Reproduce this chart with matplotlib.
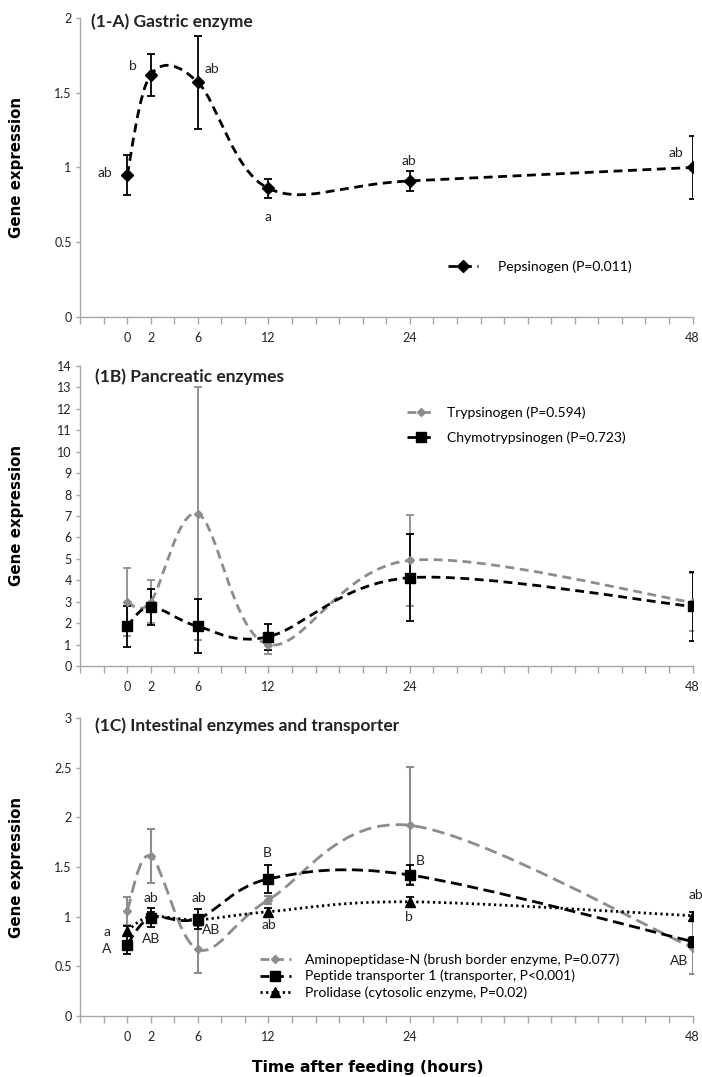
import numpy as np
import matplotlib
matplotlib.use('Agg')
import matplotlib.pyplot as plt
from matplotlib.path import Path
from matplotlib.patches import PathPatch
from matplotlib.lines import Line2D

plt.rcParams['font.family'] = ['Lato', 'DejaVu Sans']

# sampling times (hours after feeding)
hours = [0, 2, 6, 12, 24, 48]
tick_hours = [0, 2, 6, 12, 24, 48]

# (1-A) gastric enzyme
pepsinogen = [0.95, 1.62, 1.57, 0.86, 0.91, 1.00]
pepsinogen_err = [0.135, 0.14, 0.31, 0.065, 0.065, 0.21]
pepsinogen_letters = ['ab', 'b', 'ab', 'a', 'ab', 'ab']
pepsinogen_lpos = [(-1.9, 0.96), (0.5, 1.68), (7.2, 1.66), (12.0, 0.67), (23.9, 1.04), (46.6, 1.10)]

# (1B) pancreatic enzymes
trypsinogen = [2.97, 3.0, 7.1, 1.0, 4.93, 2.97]
trypsinogen_err = [1.58, 1.0, 5.9, 0.46, 2.13, 1.35]
chymotrypsinogen = [1.85, 2.76, 1.85, 1.37, 4.12, 2.78]
chymotrypsinogen_err = [0.95, 0.85, 1.26, 0.6, 2.04, 1.6]

# (1C) intestinal enzymes and transporter
aminopeptidase = [1.06, 1.61, 0.67, 1.17, 1.92, 0.69]
aminopeptidase_err = [0.14, 0.27, 0.24, 0.04, 0.59, 0.27]
pept1 = [0.72, 0.99, 0.98, 1.38, 1.42, 0.75]
pept1_err = [0.1, 0.095, 0.1, 0.14, 0.105, 0.05]
prolidase = [0.86, 1.0, 0.97, 1.05, 1.15, 1.01]
prolidase_err = [0.05, 0.05, 0.05, 0.04, 0.05, 0.04]
c_letters = ['a', 'A', 'ab', 'AB', 'ab', 'AB', 'B', 'ab', 'B', 'b', 'ab', 'AB']
c_lpos = [(-1.7, 0.85), (-1.7, 0.67), (2.0, 1.19), (2.0, 0.78), (6.1, 1.19), (7.15, 0.87),
          (11.9, 1.64), (12.0, 0.92), (24.9, 1.56), (23.95, 1.0), (48.3, 1.22), (46.9, 0.55)]

GREY = '#8c8c8c'
SPINE = '#a6a6a6'


def smooth_line(ax, x, y, color, dashes, lw=2.0):
    # Excel style smoothed line: cubic bezier through the points
    pts = np.column_stack([x, y]).astype(float)
    n = len(pts)
    verts = [pts[0]]
    codes = [Path.MOVETO]
    for i in range(n - 1):
        p0 = pts[max(i - 1, 0)]
        p1 = pts[i]
        p2 = pts[i + 1]
        p3 = pts[min(i + 2, n - 1)]
        verts += [p1 + (p2 - p0) / 6.0, p2 - (p3 - p1) / 6.0, p2]
        codes += [Path.CURVE4] * 3
    patch = PathPatch(Path(verts, codes), fill=False, edgecolor=color, lw=lw,
                      linestyle=(0, dashes), capstyle='butt', zorder=2)
    ax.add_patch(patch)


def points(ax, x, y, err, color, marker, ms, elw=1.3):
    ax.errorbar(x, y, yerr=err, fmt=marker, ms=ms, color=color, mec=color, mfc=color,
                ecolor=color, elinewidth=elw, capsize=3, capthick=elw, zorder=3)


def style_axis(ax, ymax, ystep):
    ax.set_xlim(-4, 48)
    ax.set_ylim(0, ymax)
    ticks = np.arange(-4, 49, 2)
    ax.set_xticks(ticks)
    ax.set_xticklabels([str(t) if t in tick_hours else '' for t in ticks])
    yt = np.arange(0, ymax + ystep / 2, ystep)
    ax.set_yticks(yt)
    ax.set_yticklabels(['{:g}'.format(v) for v in yt])
    for s in ['top', 'right']:
        ax.spines[s].set_visible(False)
    for s in ['left', 'bottom']:
        ax.spines[s].set_color(SPINE)
        ax.spines[s].set_linewidth(1.0)
    ax.tick_params(axis='x', direction='out', length=5, width=1, color=SPINE,
                   labelsize=9, pad=6, labelcolor='#222222')
    ax.tick_params(axis='y', direction='out', length=3, width=1, color=SPINE,
                   labelsize=9, pad=3, labelcolor='#222222')
    ax.set_ylabel('Gene expression', family='DejaVu Sans', fontweight='bold', fontsize=10.8)
    ax.yaxis.set_label_coords(-0.092, 0.5)


fig = plt.figure(figsize=(7.02, 10.77), dpi=100)
axA = fig.add_axes([0.114, 0.7057, 0.8725, 0.2776])
axB = fig.add_axes([0.114, 0.3816, 0.8725, 0.2786])
axC = fig.add_axes([0.114, 0.0566, 0.8725, 0.2767])

# ---- panel A
style_axis(axA, 2, 0.5)
smooth_line(axA, hours, pepsinogen, 'black', (3.2, 2.0))
points(axA, hours, pepsinogen, pepsinogen_err, 'black', 'D', 6.5)
for lab, (lx, ly) in zip(pepsinogen_letters, pepsinogen_lpos):
    axA.text(lx, ly, lab, ha='center', va='center', fontsize=10, color='#222222')
axA.text(0.018, 0.987, '(1-A) Gastric enzyme', transform=axA.transAxes, fontsize=12.5,
         fontweight='bold', va='center', ha='left', color='#222222')
hA = [Line2D([], [], color='black', lw=2, ls=(0, (3.2, 2.0)), marker='D', ms=6)]
axA.legend(hA, ['Pepsinogen (P=0.011)'], loc='center left', bbox_to_anchor=(0.600, 0.167),
           frameon=False, fontsize=10, handlelength=2.2, handletextpad=1.4,
           borderpad=0, borderaxespad=0)

# ---- panel B
style_axis(axB, 14, 1)
smooth_line(axB, hours, trypsinogen, GREY, (3.2, 2.0))
points(axB, hours, trypsinogen, trypsinogen_err, GREY, 'D', 4)
smooth_line(axB, hours, chymotrypsinogen, 'black', (3.2, 2.0))
points(axB, hours, chymotrypsinogen, chymotrypsinogen_err, 'black', 's', 7)
axB.text(0.024, 0.964, '(1B) Pancreatic enzymes', transform=axB.transAxes, fontsize=12.5,
         fontweight='bold', va='center', ha='left', color='#222222')
hB = [Line2D([], [], color=GREY, lw=2, ls=(0, (3.2, 2.0)), marker='D', ms=4),
      Line2D([], [], color='black', lw=2, ls=(0, (3.2, 2.0)), marker='s', ms=7)]
axB.legend(hB, ['Trypsinogen (P=0.594)', 'Chymotrypsinogen (P=0.723)'], loc='center left',
           bbox_to_anchor=(0.534, 0.803), frameon=False, fontsize=10, handlelength=2.0,
           handletextpad=0.9, labelspacing=0.85, borderpad=0, borderaxespad=0)

# ---- panel C
style_axis(axC, 3, 0.5)
smooth_line(axC, hours, aminopeptidase, GREY, (4.5, 2.2))
points(axC, hours, aminopeptidase, aminopeptidase_err, GREY, 'D', 4, elw=1.5)
smooth_line(axC, hours, pept1, 'black', (4.0, 2.0))
points(axC, hours, pept1, pept1_err, 'black', 's', 7)
smooth_line(axC, hours, prolidase, 'black', (0.8, 1.2))
points(axC, hours, prolidase, prolidase_err, 'black', '^', 7)
for lab, (lx, ly) in zip(c_letters, c_lpos):
    axC.text(lx, ly, lab, ha='center', va='center', fontsize=10, color='#222222')
axC.text(0.024, 0.973, '(1C) Intestinal enzymes and transporter', transform=axC.transAxes,
         fontsize=12.5, fontweight='bold', va='center', ha='left', color='#222222')
hC = [Line2D([], [], color=GREY, lw=2, ls=(0, (3.2, 2.0)), marker='D', ms=4),
      Line2D([], [], color='black', lw=2, ls=(0, (3.2, 2.0)), marker='s', ms=7),
      Line2D([], [], color='black', lw=2, ls=(0, (0.8, 1.2)), marker='^', ms=7)]
axC.legend(hC, ['Aminopeptidase-N (brush border enzyme, P=0.077)',
                'Peptide transporter 1 (transporter, P<0.001)',
                'Prolidase (cytosolic enzyme, P=0.02)'],
           loc='center left', bbox_to_anchor=(0.294, 0.134), frameon=False, fontsize=10,
           handlelength=2.2, handletextpad=1.0, labelspacing=0.3, borderpad=0, borderaxespad=0)

fig.text(0.524, 0.0084, 'Time after feeding (hours)', ha='center', va='center',
         family='DejaVu Sans', fontweight='bold', fontsize=11.2)

fig.savefig('out.png', dpi=100)
